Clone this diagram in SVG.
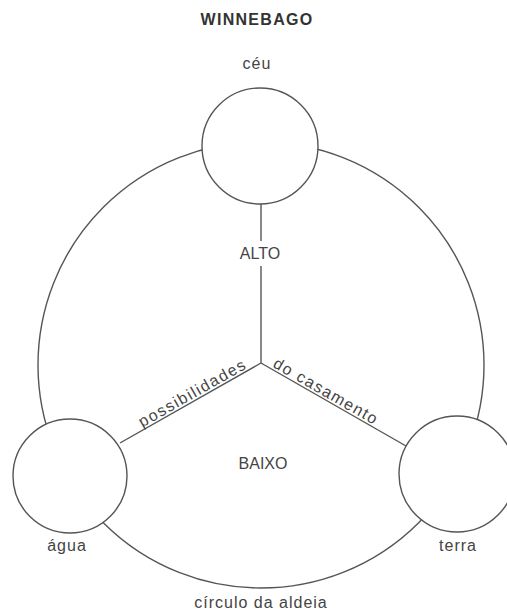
<svg xmlns="http://www.w3.org/2000/svg" width="507" height="612" viewBox="0 0 507 612">
<style>
.ln{fill:none;stroke:#555;stroke-width:1.4}
.nd{fill:#fff;stroke:#555;stroke-width:1.4}
.t{font-family:"Liberation Sans",Arial,sans-serif;font-size:16px;fill:#444;text-anchor:middle}
.lc{letter-spacing:1px}
.sp{letter-spacing:1.5px}
.b{font-weight:bold;fill:#333;letter-spacing:1.3px}
</style>
<rect width="507" height="612" fill="#fff"/>
<g id="connectors">
<circle class="ln" cx="261" cy="365" r="223"/>
<line class="ln" x1="261" y1="204" x2="261" y2="241"/>
<line class="ln" x1="261" y1="266" x2="261" y2="363"/>
<line class="ln" x1="261" y1="363" x2="120" y2="443"/>
<line class="ln" x1="261" y1="363" x2="406" y2="446"/>
</g>
<g id="title"><text class="t b" x="257" y="25">WINNEBAGO</text></g>
<g id="ceu"><circle class="nd" cx="260" cy="146" r="58"/><text class="t lc" x="257" y="69">céu</text></g>
<g id="agua"><circle class="nd" cx="70" cy="476" r="57"/><text class="t lc" x="67" y="551">água</text></g>
<g id="terra"><circle class="nd" cx="457" cy="474" r="58"/><text class="t lc" x="458" y="551">terra</text></g>
<g id="labels">
<text class="t" x="260" y="259">ALTO</text>
<text class="t" x="263" y="469">BAIXO</text>
<text class="t lc" x="261" y="608">círculo da aldeia</text>
<text class="t sp" style="text-anchor:end" transform="translate(248,367.5) rotate(-29.6)">possibilidades</text>
<text class="t sp" style="text-anchor:start" transform="translate(272,366.5) rotate(29.8)">do casamento</text>
</g>
</svg>
